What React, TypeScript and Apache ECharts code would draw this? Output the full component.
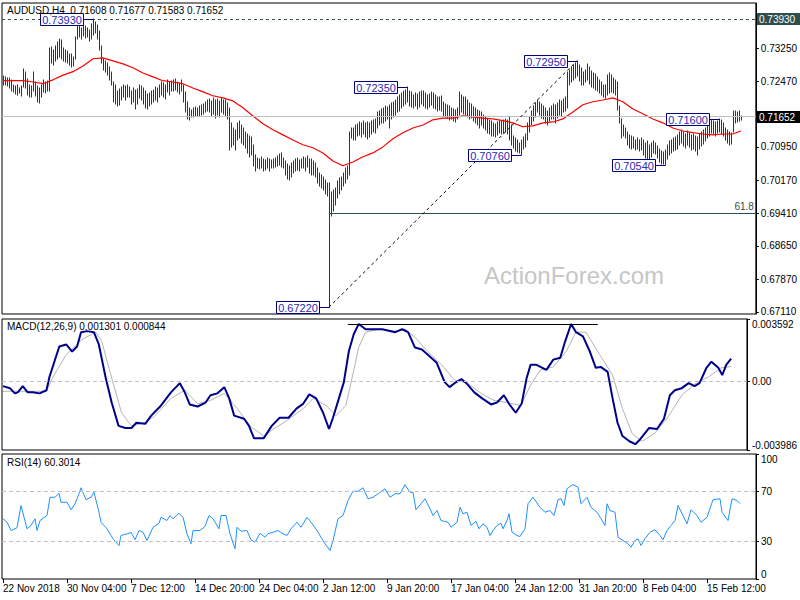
import React, { useEffect, useRef } from "react";
import * as echarts from "echarts";

// ---------- data (prices in 4-digit pips, i.e. value / 10000) ----------
const HIGH_PIPS = [
  7260,7258,7256,7255,7250, 7240,7236,7238,7232,7236, 7276,7270,7252,7240,7236, 7269,7245,7236,7232,7238,
  7250,7246,7248,7325,7327, 7320,7330,7340,7345,7344, 7325,7320,7318,7312,7310, 7305,7350,7385,7378,7372,
  7380,7376,7372,7368,7380, 7393,7385,7378,7365,7330, 7300,7295,7290,7280,7270, 7245,7240,7225,7230,7234,
  7238,7236,7240,7235,7225, 7232,7228,7230,7238,7236, 7232,7225,7218,7220,7225, 7228,7235,7232,7240,7246,
  7244,7240,7250,7245,7248, 7250,7253,7246,7244,7250, 7240,7222,7200,7185,7180, 7186,7188,7185,7190,7192,
  7195,7200,7204,7206,7202, 7208,7205,7206,7202,7208, 7205,7204,7196,7185,7150, 7140,7135,7150,7155,7145,
  7140,7130,7125,7120,7118, 7100,7075,7070,7068,7072, 7066,7064,7070,7068,7065, 7068,7070,7074,7078,7080,
  7070,7062,7055,7050,7058, 7062,7066,7070,7065,7068, 7072,7070,7074,7068,7066, 7062,7058,7045,7035,7030,
  7025,7018,7010,7012,6990, 6995,7000,7015,7022,7025, 7035,7045,7050,7130,7140, 7140,7145,7148,7152,7150,
  7155,7150,7152,7150,7155, 7158,7160,7175,7178,7183, 7185,7190,7188,7192,7198, 7200,7205,7210,7215,7220,
  7225,7228,7235,7226,7222, 7215,7220,7218,7222,7226, 7224,7220,7215,7218,7222, 7220,7216,7212,7210,7214,
  7200,7195,7192,7190,7185, 7182,7180,7185,7222,7215, 7210,7212,7205,7198,7195, 7188,7185,7180,7178,7175,
  7170,7165,7160,7158,7155, 7150,7148,7152,7156,7155, 7158,7160,7158,7165,7145, 7120,7115,7110,7105,7112,
  7118,7125,7150,7165,7178, 7190,7198,7205,7200,7195, 7190,7185,7178,7185,7190, 7195,7192,7198,7205,7202,
  7206,7210,7270,7275,7280, 7285,7290,7295,7285,7278, 7270,7275,7288,7280,7272, 7268,7265,7258,7250,7245,
  7240,7238,7262,7268,7262, 7255,7250,7245,7190,7160, 7145,7140,7130,7122,7120, 7118,7112,7115,7110,7115,
  7110,7105,7108,7100,7105, 7108,7105,7098,7090,7085, 7082,7088,7100,7108,7112, 7115,7118,7122,7130,7134,
  7130,7125,7132,7128,7122, 7125,7120,7118,7125,7130, 7135,7140,7148,7155,7158, 7155,7152,7156,7160,7158,
  7150,7140,7135,7130,7128, 7178,7178,7176,7178,7168,
];
const LOW_PIPS = [
  7240,7238,7236,7232,7226, 7222,7218,7216,7220,7214, 7234,7232,7215,7212,7210, 7225,7214,7200,7198,7210,
  7222,7220,7226,7225,7290, 7285,7295,7300,7305,7300, 7295,7292,7290,7286,7280, 7282,7300,7345,7350,7345,
  7352,7348,7350,7342,7345, 7355,7360,7345,7320,7290, 7275,7270,7262,7250,7240, 7200,7195,7190,7193,7205,
  7210,7205,7212,7210,7195, 7200,7183,7195,7208,7205, 7195,7185,7183,7190,7195, 7200,7205,7200,7210,7215,
  7212,7206,7222,7215,7225, 7225,7228,7222,7218,7225, 7200,7175,7160,7158,7165, 7165,7168,7166,7168,7170,
  7172,7175,7178,7175,7168, 7172,7162,7170,7165,7175, 7172,7168,7160,7088,7095, 7100,7088,7110,7115,7105,
  7100,7092,7080,7072,7075, 7050,7040,7045,7043,7045, 7040,7042,7045,7040,7046, 7045,7048,7050,7052,7048,
  7045,7030,7020,7018,7025, 7035,7038,7042,7040,7045, 7045,7040,7048,7035,7030, 7030,7025,7010,7005,7000,
  6995,6985,6980,6722,6935, 6945,6960,6975,6985,6995, 7005,7012,7020,7030,7115, 7110,7112,7120,7122,7118,
  7125,7118,7114,7118,7125, 7130,7128,7140,7145,7150, 7150,7155,7160,7140,7160, 7165,7170,7175,7178,7185,
  7190,7195,7200,7190,7188, 7185,7190,7183,7188,7195, 7190,7185,7182,7188,7192, 7185,7182,7178,7180,7178,
  7168,7165,7162,7158,7160, 7155,7152,7160,7170,7175, 7172,7170,7165,7160,7162, 7155,7150,7145,7140,7145,
  7138,7135,7128,7125,7120, 7120,7118,7122,7128,7125, 7128,7130,7125,7112,7100, 7092,7085,7082,7080,7076,
  7090,7095,7110,7130,7145, 7155,7165,7175,7170,7162, 7160,7150,7145,7155,7160, 7160,7150,7162,7170,7168,
  7175,7178,7185,7240,7245, 7250,7255,7260,7248,7240, 7240,7245,7250,7242,7235, 7232,7228,7225,7220,7215,
  7212,7208,7215,7220,7222, 7220,7215,7180,7150,7115, 7120,7115,7100,7092,7090, 7092,7088,7090,7085,7088,
  7075,7070,7065,7060,7072, 7080,7078,7070,7060,7056, 7056,7054,7068,7075,7080, 7085,7088,7090,7100,7105,
  7098,7092,7100,7095,7088, 7090,7085,7075,7090,7098, 7102,7108,7115,7120,7128, 7125,7120,7128,7130,7125,
  7120,7112,7105,7100,7102, 7130,7150,7152,7155,7158,
];

// moving average, [bar index, pips]
const MA_POINTS = [
  [0,7249],[5,7249],[10,7249],[15,7246],[20,7242],[25,7251],[30,7262],[35,7270],[40,7283],[45,7300],
  [50,7302],[55,7295],[60,7288],[65,7279],[70,7267],[75,7258],[80,7249],[85,7246],[90,7242],[95,7232],
  [100,7223],[105,7214],[110,7209],[115,7202],[120,7186],[125,7167],[130,7149],[135,7135],[140,7123],[145,7111],
  [150,7100],[155,7093],[160,7081],[165,7062],[170,7051],[175,7060],[180,7072],[185,7081],[190,7095],[195,7114],
  [200,7128],[205,7139],[210,7146],[215,7158],[220,7162],[225,7162],[230,7167],[235,7165],[240,7162],[245,7160],
  [250,7156],[255,7151],[260,7142],[265,7144],[270,7151],[275,7153],[280,7160],[285,7176],[290,7193],[295,7200],
  [300,7204],[305,7209],[310,7200],[315,7183],[320,7172],[325,7160],[330,7151],[335,7139],[340,7132],[345,7128],
  [350,7125],[355,7123],[360,7125],[365,7125],[369,7132],
];

// MACD main and signal, [bar index, value]
const MACD_MAIN = [
  [0,-0.00029],[3.5,-0.00041],[6,-0.00071],[7.5,-0.00065],[10,-0.00029],[12.5,-0.00065],[15,-0.00065],[18.5,-0.00071],
  [22,-0.00053],[23.5,0.00024],[26,0.00112],[28.5,0.002],[32,0.00212],[35,0.00171],[37.5,0.002],[39.5,0.00283],
  [42.5,0.00289],[46,0.00283],[48.5,0.00212],[52,0.00018],[55,-0.00124],[58.5,-0.00259],[62,-0.00271],[65,-0.00271],
  [67.5,-0.00241],[72,-0.00247],[75,-0.002],[80,-0.00141],[85,-0.00065],[89.5,-0.00012],[92,-0.00065],[94.5,-0.00135],
  [98.5,-0.00147],[102.5,-0.00124],[105,-0.00082],[108.5,-0.00071],[112,-0.00035],[114.5,-0.001],[117,-0.002],[122,-0.00218],
  [124.5,-0.00259],[127,-0.0033],[132,-0.0033],[136,-0.00259],[140,-0.00212],[144.5,-0.00212],[148.5,-0.00159],[152,-0.0013],
  [155,-0.00077],[158.5,-0.001],[162,-0.00183],[165,-0.00277],[167,-0.00212],[170,-0.001],[172.5,-0.00006],[175,0.00171],
  [177.5,0.00271],[180,0.0033],[183.5,0.003],[187,0.003],[192,0.003],[198.5,0.00283],[202,0.003],[205,0.00283],
  [208.5,0.00194],[212,0.00183],[215,0.00153],[219.5,0.00106],[223.5,-0.00006],[226,-0.00035],[228.5,-0.00012],[232,0.00012],
  [234.5,-0.00012],[238.5,-0.00065],[242.5,-0.001],[247,-0.00135],[250,-0.00124],[253.5,-0.00082],[256,-0.0013],[259.5,-0.00183],
  [262.5,-0.0013],[265,0.00018],[267,0.00094],[270,0.00094],[275,0.00065],[278.5,0.00124],[282,0.00135],[284.5,0.0023],
  [287.5,0.0033],[290,0.00283],[293.5,0.00259],[297,0.00171],[300,0.00077],[302.5,0.00082],[306,0.00053],[308.5,-0.001],
  [311,-0.00241],[313.5,-0.00318],[317,-0.00348],[320,-0.00365],[322.5,-0.00336],[327,-0.00271],[331,-0.00277],[334.5,-0.00218],
  [337.5,-0.00082],[340,-0.00053],[343.5,-0.00041],[347,-0.00012],[350,-0.00029],[352.5,-0.00012],[356,0.00077],[358.5,0.00112],
  [362,0.00077],[364,0.00035],[366,0.00094],[368.5,0.0013],
];
const MACD_SIGNAL = [
  [0,-0.00059],[22,-0.00059],[25,0.00018],[32,0.00153],[40,0.00241],[47,0.00283],[50,0.0023],[55,0.00018],
  [60,-0.00183],[65,-0.00259],[72,-0.00241],[77,-0.002],[85,-0.001],[92,-0.00053],[98.5,-0.0013],[105,-0.00112],
  [112,-0.00071],[118.5,-0.00159],[125,-0.00259],[132,-0.00318],[137,-0.00277],[143.5,-0.0023],[152,-0.00159],[157,-0.001],
  [163.5,-0.00141],[168.5,-0.002],[173.5,-0.00141],[177,0.00035],[180,0.00194],[183.5,0.00283],[190,0.003],[198.5,0.00289],
  [203.5,0.003],[208.5,0.00253],[215,0.00171],[222,0.00094],[228.5,0.00006],[235,-0.00012],[242,-0.00071],[248.5,-0.00112],
  [255,-0.00124],[262,-0.00141],[267,-0.00024],[272,0.00065],[278.5,0.00082],[285,0.00171],[290,0.00283],[295,0.00283],
  [302,0.00153],[308.5,0.00035],[313.5,-0.00159],[318.5,-0.00306],[323.5,-0.00348],[330,-0.003],[337,-0.002],[343.5,-0.00082],
  [350,-0.00018],[357,0.00024],[363.5,0.00077],[368.5,0.00084],
];

// RSI(14), [bar index, value]
const RSI_POINTS = [
  [0,48.2],[2,45.5],[4,38.8],[7,41],[9,58.8],[12,40.2],[14,42.8],[16,48.2],[17,38.8],[18.5,46.8],[22,50.8],[23.5,65.4],
  [26,65.4],[28,68.6],[29,61.4],[32,61.4],[34,55.4],[36,60.2],[38,68.2],[39,73],[41.5,63.4],[44,65.4],[45.5,69.4],[48,53.4],
  [49,45.4],[52,40.2],[55,32.2],[58,26.8],[59,34.8],[63,36.6],[64,37.4],[66,31.4],[68,38.8],[70,37.4],[72,30.8],[75,41.4],
  [78,44.6],[79,49.4],[82,46.8],[83.5,50.8],[85,48.2],[88,52.6],[90,49.4],[92,36.2],[94,28.2],[95,38.8],[98.5,38.8],[101,42],
  [103,50.8],[105,48.2],[108,40.2],[109,50.8],[111.5,50.8],[113.5,36.2],[116,24.2],[117,41.4],[119,38.2],[122,38.8],[124,31.4],[126,29.4],
  [128.5,36.6],[131,33.4],[132.5,36.2],[135,37.4],[137.5,38.8],[140,36.2],[142,34.8],[144,40.2],[147,45.4],[149,41.4],[152,49.4],[154,45.4],
  [157,38.8],[159,33.4],[161,28.2],[163.5,22.8],[165,30.8],[167.5,48.2],[170,50.8],[172.5,62.8],[175,70.2],[177.5,70.2],[180,73],[182.5,64.2],
  [185,65.4],[187.5,68.2],[191,72.2],[193.5,65.4],[196,68.2],[198.5,68.2],[201,75.4],[203.5,69.4],[205,69.4],[206.5,55.4],[209,60.2],[211,64.2],
  [213.5,56.2],[215,50.8],[217,54.8],[219,46.8],[222.5,45.4],[224,41.4],[227,45.4],[228.5,57.4],[230,52.2],[232,53.4],[234,42.8],[236.5,46.2],
  [238,40.2],[240,44.2],[242,41.4],[243.5,34.8],[245,38.8],[247,42.8],[249,44.6],[250,40.2],[252,46.8],[253,52.2],[254.5,37.4],[257,34.8],
  [258.5,34],[261,40.2],[262.5,60.2],[265,65.4],[268.5,57.4],[271,53.4],[273.5,54.8],[275.5,50.8],[277.5,63.4],[279,64.2],[280.5,58.8],[282,72.2],
  [285,75.6],[287.5,73.4],[289,60.2],[292,65.4],[294,57.4],[297,53.4],[299,48.2],[301,42.8],[302,60.2],[303.5,54.8],[306,53.4],[307.5,33.4],
  [310,30.8],[312.5,28.2],[314,25.4],[316,30.8],[317.5,32.2],[319,26.8],[321,32.2],[323.5,37.4],[326,39.4],[328.5,34.8],[330,31.4],[332,38.8],
  [334,42.8],[336,46.8],[337.5,58.8],[340,50.8],[342,44.2],[344,55.4],[347,50.8],[349,45.4],[352,49.4],[355,63.4],[358.5,64.2],[359.5,53.4],
  [362.5,46.8],[364.5,64.2],[367,62.8],[368.5,60.3],
];

const PRICE_TICKS = [0.6711, 0.6787, 0.6865, 0.6941, 0.7017, 0.7095, 0.7171, 0.7247, 0.7325, 0.7403];
const PRICE_LABELS = [0.6711, 0.6787, 0.6865, 0.6941, 0.7017, 0.7095, 0.7247, 0.7325];
const MACD_TICKS = [-0.003986, 0, 0.003592];
const RSI_TICKS = [0, 30, 70, 100];
const RSI_LEVELS = [30, 70];
const TIME_TICK_BARS = [0, 32, 64, 96, 128, 160, 192, 224, 256, 288, 320, 352];
const TIME_LABELS = [
  "22 Nov 2018", "30 Nov 04:00", "7 Dec 12:00", "14 Dec 20:00", "24 Dec 04:00", "2 Jan 12:00",
  "9 Jan 20:00", "17 Jan 04:00", "24 Jan 12:00", "31 Jan 20:00", "8 Feb 04:00", "15 Feb 12:00",
];
const LAST_OHLC = [0.71608, 0.71677, 0.71583, 0.71652];
const MACD_LAST = [0.001301, 0.000844];
const RSI_LAST = 60.3014;
const HIGH_LEVEL = 0.7393;
const FIBO_LEVEL = 0.6941;
const FIBO_FROM_BAR = 163;
const TREND_FROM_BAR = 163;
const TREND_TO_BAR = 287;
const MACD_PEAK_LEVEL = 0.0033;
const MACD_PEAK_FROM = 174.5;
const MACD_PEAK_TO = 301;
const ANNOTATIONS = [
  { bar: 45, kind: "high" },
  { bar: 202, kind: "high" },
  { bar: 287, kind: "high" },
  { bar: 259, kind: "low" },
  { bar: 331, kind: "low" },
  { bar: 358, kind: "high" },
  { bar: 163, kind: "low" },
];

const FONT = '"Liberation Sans", Arial, sans-serif';
const BAR_COLOR = "#1b3b55";
const NAVY = "#000080";
const XMIN = -0.5;
const XMAX = 376.5;

function hLine(value: number, lineStyle: any, fromBar = XMIN, label: any = { show: false }) {
  return [
    { coord: [fromBar, value], lineStyle, label },
    { coord: [XMAX, value] },
  ];
}

function buildOption(): any {
  const bars = HIGH_PIPS.map((h, i) => [i, LOW_PIPS[i] / 1e4, h / 1e4]);
  const ma = MA_POINTS.map(([i, p]) => [i, p / 1e4]);
  const axisText = { color: "#000", fontSize: 10, fontFamily: FONT };
  const hiddenX = (g: number) => ({
    gridIndex: g, type: "value", min: XMIN, max: XMAX, show: false, splitLine: { show: false },
  });
  return {
    animation: false,
    backgroundColor: "#fff",
    grid: [
      { left: 2, top: 3, width: 754, height: 311, show: true, borderColor: "#000", borderWidth: 1, backgroundColor: "#fff" },
      { left: 2, top: 319, width: 754, height: 131, show: true, borderColor: "#000", borderWidth: 1, backgroundColor: "#fff" },
      { left: 2, top: 454, width: 754, height: 125, show: true, borderColor: "#000", borderWidth: 1, backgroundColor: "#fff" },
    ],
    xAxis: [
      hiddenX(0),
      hiddenX(1),
      {
        gridIndex: 2, type: "value", min: XMIN, max: XMAX,
        axisLine: { show: false },
        splitLine: { show: false },
        axisTick: { show: true, customValues: TIME_TICK_BARS, length: 4, inside: false, lineStyle: { color: "#000" } },
        axisLabel: {
          show: true, customValues: TIME_TICK_BARS, align: "left", margin: 4, ...axisText,
          formatter: (v: number) => TIME_LABELS[TIME_TICK_BARS.indexOf(v)] ?? "",
        },
      },
    ],
    yAxis: [
      {
        gridIndex: 0, type: "value", position: "right", min: 0.67063, max: 0.74297, scale: true,
        axisLine: { show: true, onZero: false, lineStyle: { color: "#000" } },
        axisTick: { show: true, customValues: PRICE_TICKS, length: 3, lineStyle: { color: "#000" } },
        axisLabel: { customValues: PRICE_LABELS, margin: 5, ...axisText, formatter: (v: number) => v.toFixed(5) },
        splitLine: { show: false },
      },
      {
        gridIndex: 1, type: "value", position: "right", min: MACD_TICKS[0], max: MACD_TICKS[2],
        axisLine: { show: true, onZero: false, lineStyle: { color: "#000" } },
        axisTick: { show: true, customValues: MACD_TICKS, length: 3, lineStyle: { color: "#000" } },
        axisLabel: {
          customValues: MACD_TICKS, margin: 5, ...axisText,
          verticalAlignMinLabel: "bottom", verticalAlignMaxLabel: "top",
          formatter: (v: number) => (v === 0 ? "0.00" : v.toFixed(6)),
        },
        splitLine: { show: false },
      },
      {
        gridIndex: 2, type: "value", position: "right", min: 0, max: 100,
        axisLine: { show: true, onZero: false, lineStyle: { color: "#000" } },
        axisTick: { show: true, customValues: RSI_TICKS, length: 3, lineStyle: { color: "#000" } },
        axisLabel: {
          customValues: RSI_TICKS, margin: 5, ...axisText,
          verticalAlignMinLabel: "bottom", verticalAlignMaxLabel: "top",
          formatter: (v: number) => String(v),
        },
        splitLine: { show: false },
      },
    ],
    series: [
      {
        type: "line", xAxisIndex: 0, yAxisIndex: 0, data: [], silent: true, z: 1,
        markLine: {
          silent: true, symbol: ["none", "none"], animation: false,
          data: [
            hLine(LAST_OHLC[3], { color: "#c0c0c0", type: "solid", width: 1 }),
            hLine(HIGH_LEVEL, { color: "#2f4f4f", type: [3, 3], width: 1 }),
            hLine(FIBO_LEVEL, { color: "#2f4f4f", type: "solid", width: 1 }, FIBO_FROM_BAR, {
              show: true, position: "insideEndTop", formatter: "61.8", color: "#2f4f4f",
              fontSize: 10, fontFamily: FONT, distance: 2,
            }),
          ],
        },
      },
      {
        type: "custom", xAxisIndex: 0, yAxisIndex: 0, z: 3, silent: true,
        encode: { x: 0, y: [1, 2] },
        data: bars,
        renderItem: (params: any, api: any) => {
          const i = api.value(0);
          const lo = api.coord([i, api.value(1)]);
          const hi = api.coord([i, api.value(2)]);
          const x = Math.round(lo[0]) + 0.5;
          return {
            type: "line",
            shape: { x1: x, y1: Math.round(lo[1]) + 0.5, x2: x, y2: Math.round(hi[1]) - 0.5 },
            style: { stroke: BAR_COLOR, lineWidth: 1 },
          };
        },
      },
      {
        type: "line", xAxisIndex: 0, yAxisIndex: 0, data: ma, showSymbol: false, silent: true, z: 4,
        lineStyle: { color: "#ff0000", width: 1.2 },
      },
      {
        type: "line", xAxisIndex: 0, yAxisIndex: 0, showSymbol: false, silent: true, z: 5,
        data: [
          [TREND_FROM_BAR, LOW_PIPS[TREND_FROM_BAR] / 1e4],
          [TREND_TO_BAR, HIGH_PIPS[TREND_TO_BAR] / 1e4],
        ],
        lineStyle: { color: "#000", width: 1, type: [3, 3] },
      },
      {
        type: "line", xAxisIndex: 1, yAxisIndex: 1, data: MACD_SIGNAL, showSymbol: false, silent: true, z: 3,
        lineStyle: { color: "#b4b4b4", width: 1 },
        markLine: {
          silent: true, symbol: ["none", "none"], animation: false,
          data: [
            hLine(0, { color: "#c0c0c0", type: [4, 3], width: 1 }),
            [
              { coord: [MACD_PEAK_FROM, MACD_PEAK_LEVEL], lineStyle: { color: "#000", type: "solid", width: 1 }, label: { show: false } },
              { coord: [MACD_PEAK_TO, MACD_PEAK_LEVEL] },
            ],
          ],
        },
      },
      {
        type: "line", xAxisIndex: 1, yAxisIndex: 1, data: MACD_MAIN, showSymbol: false, silent: true, z: 4,
        lineStyle: { color: "#00008b", width: 2 },
      },
      {
        type: "line", xAxisIndex: 2, yAxisIndex: 2, data: RSI_POINTS, showSymbol: false, silent: true, z: 4,
        lineStyle: { color: "#1e90ff", width: 1 },
        markLine: {
          silent: true, symbol: ["none", "none"], animation: false,
          data: RSI_LEVELS.map((l) => hLine(l, { color: "#c0c0c0", type: [4, 3], width: 1 })),
        },
      },
    ],
  };
}

export default function App() {
  const ref = useRef<HTMLDivElement>(null);
  useEffect(() => {
    const el = ref.current;
    if (!el) return;
    const chart = echarts.init(el, null, { renderer: "svg" });
    chart.setOption(buildOption());

    const toPx = (bar: number, price: number) =>
      chart.convertToPixel({ gridIndex: 0 } as any, [bar, price]) as unknown as number[];

    const g: any[] = [];
    ANNOTATIONS.forEach((a) => {
      const price = (a.kind === "high" ? HIGH_PIPS[a.bar] : LOW_PIPS[a.bar]) / 1e4;
      const [ax, ay] = toPx(a.bar, price);
      const cy = Math.round(ay) + 0.5;
      const right = Math.round(ax) - 10 + 0.5;
      const w = 43;
      const h = 12;
      g.push({ type: "line", z: 20, shape: { x1: right, y1: cy, x2: Math.round(ax) + 0.5, y2: cy }, style: { stroke: NAVY, lineWidth: 1 } });
      g.push({ type: "rect", z: 20, shape: { x: right - w, y: cy - h / 2, width: w, height: h }, style: { fill: "#fff", stroke: NAVY, lineWidth: 1 } });
      g.push({
        type: "text", z: 21, x: right - w / 2, y: cy + 0.5,
        style: { text: price.toFixed(5), fill: "#2a2ab0", font: `11px ${FONT}`, align: "center", verticalAlign: "middle" },
      });
    });

    const axisBoxes = [
      { value: HIGH_LEVEL, bg: "#2f4f4f" },
      { value: LAST_OHLC[3], bg: "#000000" },
    ];
    axisBoxes.forEach((b) => {
      const [, y] = toPx(0, b.value);
      const cy = Math.round(y);
      g.push({ type: "rect", z: 20, shape: { x: 757, y: cy - 6, width: 43, height: 12 }, style: { fill: b.bg } });
      g.push({
        type: "text", z: 21, x: 759, y: cy + 0.5,
        style: { text: b.value.toFixed(5), fill: "#fff", font: `10px ${FONT}`, align: "left", verticalAlign: "middle" },
      });
    });

    const titles = [
      { text: `AUDUSD,H4  ${LAST_OHLC.map((v) => v.toFixed(5)).join(" ")}`, y: 10 },
      { text: `MACD(12,26,9) ${MACD_LAST.map((v) => v.toFixed(6)).join(" ")}`, y: 326 },
      { text: `RSI(14) ${RSI_LAST.toFixed(4)}`, y: 462 },
    ];
    titles.forEach((t) =>
      g.push({
        type: "text", z: 22, x: 7, y: t.y,
        style: { text: t.text, fill: "#000", font: `10px ${FONT}`, align: "left", verticalAlign: "middle" },
      })
    );

    g.push({
      type: "text", z: 0, x: 574, y: 275,
      style: { text: "ActionForex.com", fill: "#c6c6c6", font: `24px ${FONT}`, align: "center", verticalAlign: "middle" },
    });

    chart.setOption({ graphic: g });
    return () => chart.dispose();
  }, []);

  return (
    <div
      ref={ref}
      style={{ position: "fixed", left: 0, top: 0, width: 800, height: 600, background: "#fff" }}
    />
  );
}
